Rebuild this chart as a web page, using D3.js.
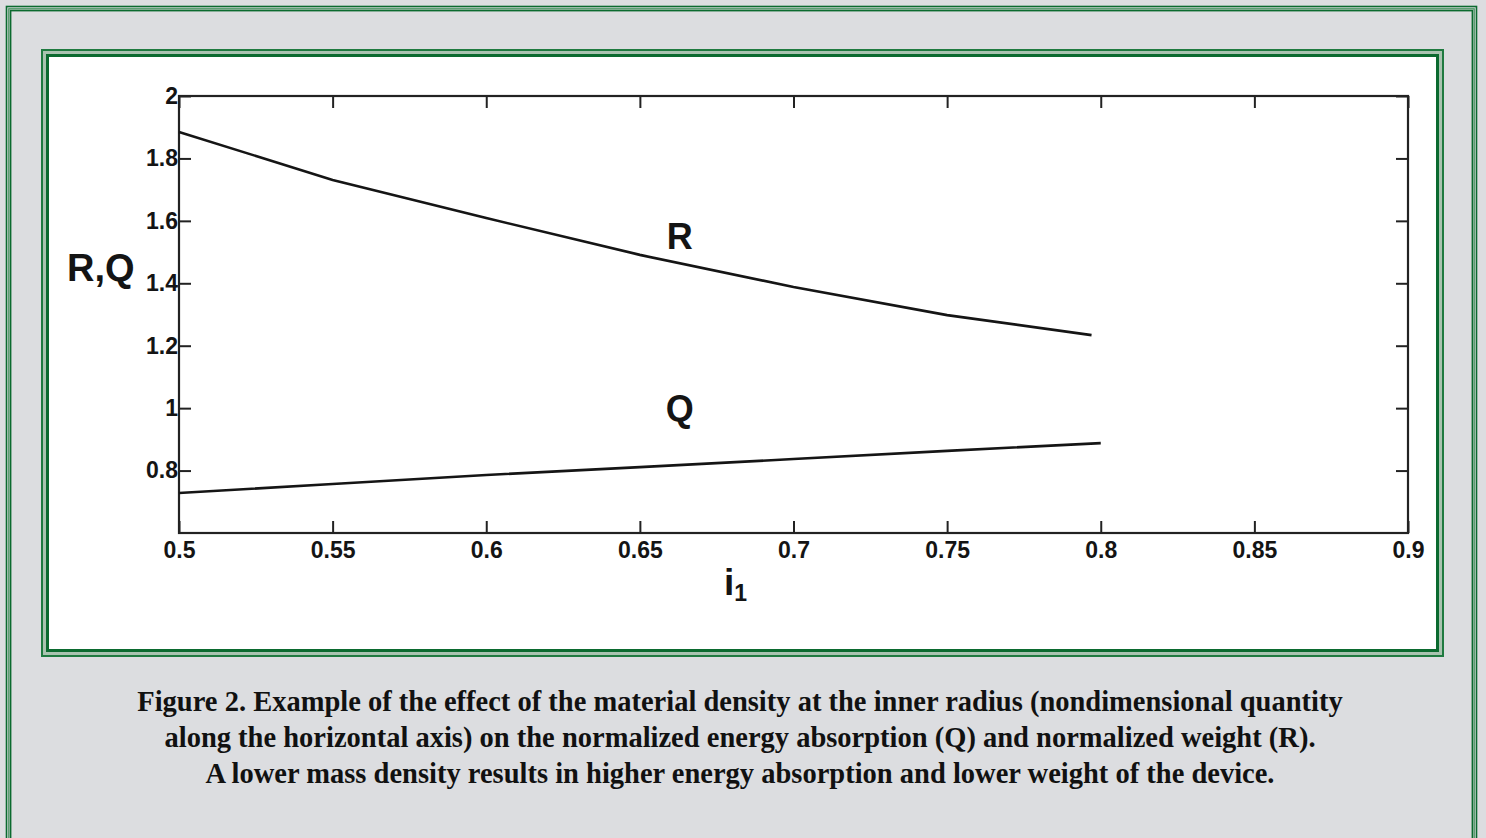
<html>
<head>
<meta charset="utf-8">
<style>
  body { margin: 0; background: #dcdde0; }
  svg { display: block; }
</style>
</head>
<body>
<script src="https://d3js.org/d3.v7.min.js"></script>
<div id="my_dataviz"></div>
<script>
// data
var i1Q = [0.5, 0.55, 0.6, 0.65, 0.7, 0.75, 0.8];
var qValues = [0.728, 0.757, 0.786, 0.811, 0.837, 0.863, 0.888];
var i1R = [0.5, 0.55, 0.6, 0.65, 0.7, 0.75, 0.797];
var rValues = [1.885, 1.731, 1.609, 1.491, 1.388, 1.298, 1.234];
var xTicks = [0.5, 0.55, 0.6, 0.65, 0.7, 0.75, 0.8, 0.85, 0.9];
var yTicks = [0.8, 1, 1.2, 1.4, 1.6, 1.8, 2];
var captionLines = [
  "Figure 2. Example of the effect of the material density at the inner radius (nondimensional quantity",
  "along the horizontal axis) on the normalized energy absorption (Q) and normalized weight (R).",
  "A lower mass density results in higher energy absorption and lower weight of the device."
];

var W = 1486, H = 838;
var svg = d3.select("#my_dataviz").append("svg")
  .attr("width", W).attr("height", H);

svg.append("rect").attr("width", W).attr("height", H).attr("fill", "#dcdde0");

// outer page frame (triple green rule, runs off the bottom)
[[6.5, 1.6, "#0b6a2f"], [8.8, 1.2, "#3d8f57"], [10.6, 1.6, "#0b6a2f"]].forEach(function(f) {
  svg.append("rect")
    .attr("x", f[0]).attr("y", f[0])
    .attr("width", W - 2 * f[0] - 3).attr("height", H + 40)
    .attr("fill", "none").attr("stroke", f[2]).attr("stroke-width", f[1]);
});

// inner figure frame
var fx0 = 41, fy0 = 49, fx1 = 1444, fy1 = 657;
svg.append("rect").attr("x", fx0).attr("y", fy0).attr("width", fx1 - fx0).attr("height", fy1 - fy0)
  .attr("fill", "#a9c3b0");
svg.append("rect").attr("x", fx0 + 1).attr("y", fy0 + 1).attr("width", fx1 - fx0 - 2).attr("height", fy1 - fy0 - 2)
  .attr("fill", "none").attr("stroke", "#1f7a40").attr("stroke-width", 2);
svg.append("rect").attr("x", fx0 + 5).attr("y", fy0 + 5).attr("width", fx1 - fx0 - 10).attr("height", fy1 - fy0 - 10)
  .attr("fill", "#0b6a2f");
svg.append("rect").attr("x", fx0 + 8).attr("y", fy0 + 8).attr("width", fx1 - fx0 - 16).attr("height", fy1 - fy0 - 16)
  .attr("fill", "#ffffff");

// plot
var margin = {top: 96, left: 179},
    width = 1408 - 179,
    height = 533 - 96;

var g = svg.append("g").attr("transform", "translate(" + margin.left + "," + margin.top + ")");

var x = d3.scaleLinear().domain([0.5, 0.9]).range([0, width]);
var y = d3.scaleLinear().domain([0.6, 2]).range([height, 0]);

var tickFont = "'Liberation Sans', Arial, sans-serif";

function styleAxis(sel) {
  sel.select(".domain").remove();
  sel.selectAll("line").attr("stroke", "#222").attr("stroke-width", 2);
  sel.selectAll("text")
    .style("font-family", tickFont).style("font-weight", "bold")
    .style("font-size", "23px").attr("fill", "#141414");
}

g.append("g").attr("transform", "translate(0," + height + ")")
  .call(d3.axisBottom(x).tickValues(xTicks).tickSize(-12).tickPadding(9)
    .tickFormat(function(d) { return String(+d.toFixed(2)); }))
  .call(styleAxis);
g.append("g")
  .call(d3.axisTop(x).tickValues(xTicks).tickSize(-12).tickFormat(""))
  .call(styleAxis);
g.append("g")
  .call(d3.axisLeft(y).tickValues(yTicks).tickSize(-12).tickPadding(1)
    .tickFormat(function(d) { return String(+d.toFixed(1)); }))
  .call(styleAxis);
g.append("g").attr("transform", "translate(" + width + ",0)")
  .call(d3.axisRight(y).tickValues(yTicks).tickSize(-12).tickFormat(""))
  .call(styleAxis);

// box
g.append("rect").attr("width", width).attr("height", height)
  .attr("fill", "none").attr("stroke", "#222").attr("stroke-width", 2.2);

var line = d3.line()
  .x(function(d) { return x(d[0]); })
  .y(function(d) { return y(d[1]); });

g.append("path").datum(d3.zip(i1R, rValues))
  .attr("d", line).attr("fill", "none").attr("stroke", "#151515").attr("stroke-width", 2.6);
g.append("path").datum(d3.zip(i1Q, qValues))
  .attr("d", line).attr("fill", "none").attr("stroke", "#151515").attr("stroke-width", 2.6);

// curve labels
g.append("text").attr("x", x(0.663)).attr("y", y(1.51)).text("R")
  .attr("text-anchor", "middle").style("font-family", tickFont).style("font-weight", "bold")
  .style("font-size", "36px").attr("fill", "#141414");
g.append("text").attr("x", x(0.663)).attr("y", y(0.958)).text("Q")
  .attr("text-anchor", "middle").style("font-family", tickFont).style("font-weight", "bold")
  .style("font-size", "36px").attr("fill", "#141414");

// axis titles
svg.append("text").attr("x", 67).attr("y", 281).text("R,Q")
  .style("font-family", tickFont).style("font-weight", "bold")
  .style("font-size", "38px").attr("fill", "#141414");
var xl = svg.append("text").attr("x", 724).attr("y", 595)
  .style("font-family", tickFont).style("font-weight", "bold").attr("fill", "#141414");
xl.append("tspan").text("i").style("font-size", "37px");
xl.append("tspan").text("1").style("font-size", "23px").attr("dy", 6);

// caption
svg.append("g").selectAll("text").data(captionLines).enter().append("text")
  .attr("x", 740)
  .attr("y", function(d, i) { return 711 + i * 36; })
  .attr("text-anchor", "middle")
  .style("font-family", "'Liberation Serif', 'Times New Roman', serif")
  .style("font-weight", "bold").style("font-size", "28.5px").attr("fill", "#111")
  .text(function(d) { return d; });
</script>
</body>
</html>
